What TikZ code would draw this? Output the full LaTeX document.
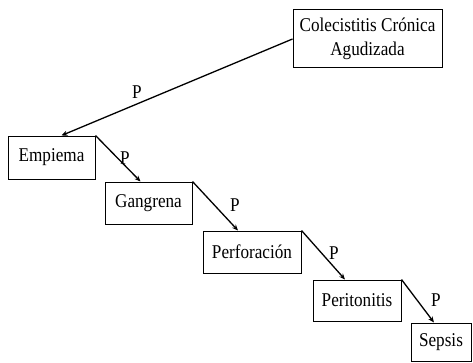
\documentclass[tikz,border=0pt]{standalone}
\usepackage{fontspec}
\setmainfont{Liberation Serif}[FakeStretch=0.88]
\usetikzlibrary{arrows.meta}
\begin{document}
\begin{tikzpicture}[x=1pt,y=1pt,
  stage/.style={draw, line width=1pt, rectangle, inner sep=0pt, align=center,
    font=\fontsize{19.5}{24}\selectfont},
  plabel/.style={inner sep=0pt, font=\fontsize{19.5}{24}\selectfont},
  link/.style={line width=1.3pt, -{Stealth[length=6pt,width=5pt]}}]
\useasboundingbox (0,0) rectangle (473,362);

% stages of the complication chain
\node[stage, minimum width=149pt, minimum height=58pt] (ccca) at (367.5,323)
  {Colecistitis Crónica\\Agudizada};
\node[stage, minimum width=87pt, minimum height=43pt] (empiema) at (51.5,204.5) {Empiema};
\node[stage, minimum width=87pt, minimum height=42pt] (gangrena) at (148.5,159) {Gangrena};
\node[stage, minimum width=98pt, minimum height=42pt] (perfor) at (252,110) {Perforación};
\node[stage, minimum width=88pt, minimum height=41pt] (perit) at (357,61.5) {Peritonitis};
\node[stage, minimum width=60pt, minimum height=38pt] (sepsis) at (441,20) {Sepsis};

% probability labels
\node[plabel] (p1) at (137,270) {P};
\node[plabel] (p2) at (125,204) {P};
\node[plabel] (p3) at (235,157) {P};
\node[plabel] (p4) at (334,109) {P};
\node[plabel] (p5) at (436,62) {P};

% connectors
\draw[link] (ccca.west) -- ([xshift=10pt]empiema.north);
\draw[link] (empiema.north east) -- ([xshift=-8pt]gangrena.north);
\draw[link] (gangrena.north east) -- ([xshift=-14pt]perfor.north);
\draw[link] (perfor.north east) -- ([xshift=-12pt]perit.north);
\draw[link] (perit.north east) -- ([xshift=-7pt]sepsis.north);
\end{tikzpicture}
\end{document}
